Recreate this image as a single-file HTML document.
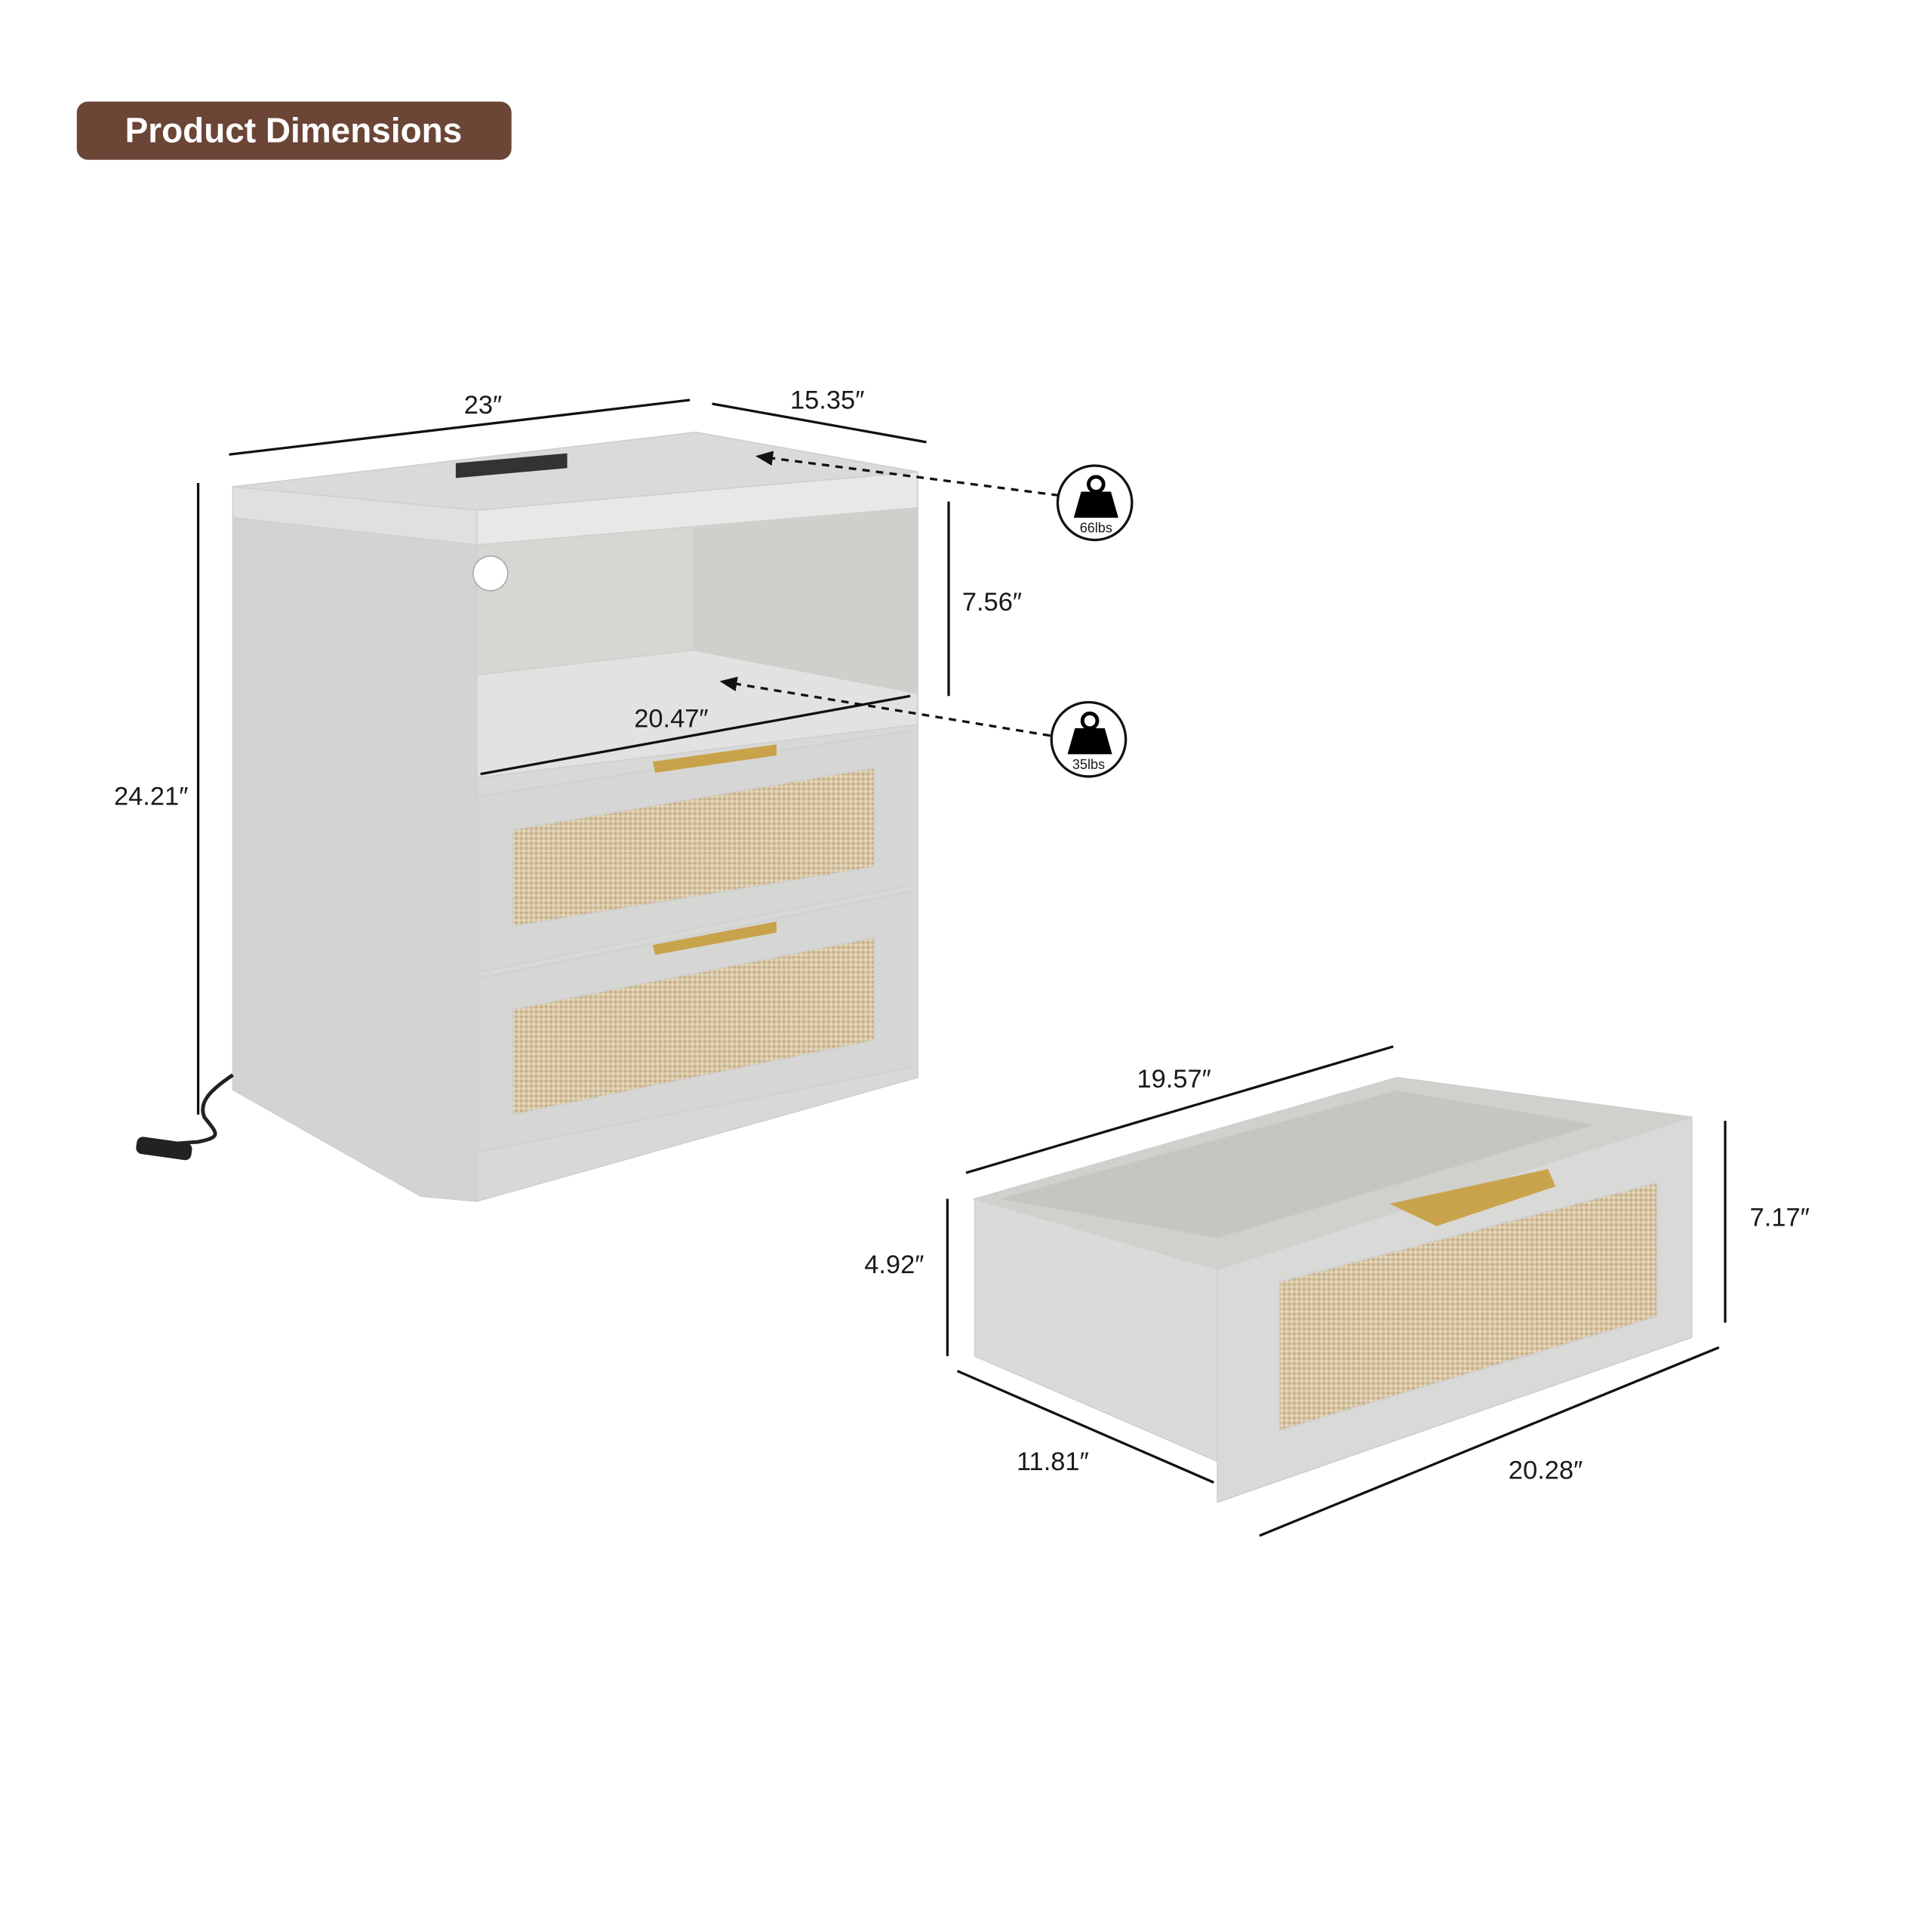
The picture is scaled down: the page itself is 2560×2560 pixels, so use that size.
<!DOCTYPE html>
<html><head><meta charset="utf-8"><style>
html,body{margin:0;padding:0;background:#fff;}
svg{display:block;}
text{font-family:"Liberation Sans",sans-serif;fill:#1a1a1a;}
</style></head><body>
<svg width="2560" height="2560" viewBox="0 0 1560 1560" xmlns="http://www.w3.org/2000/svg">
<defs>
<pattern id="rat" width="4" height="4" patternUnits="userSpaceOnUse">
<rect width="4" height="4" fill="#d9c7a6"/><rect width="2" height="2" fill="#c4ad88"/><rect x="2" y="2" width="2" height="2" fill="#e6d8bc"/>
</pattern>
<marker id="ah" markerWidth="8" markerHeight="8" refX="4" refY="4" orient="auto"><path d="M0,1 L7,4 L0,7 z" fill="#111"/></marker>
</defs>
<rect x="62" y="82" width="351" height="47" rx="9" fill="#6b4536"/>
<text x="237" y="115" font-size="28" font-weight="bold" text-anchor="middle" style="fill:#fff">Product Dimensions</text>

<g stroke="#cfcfcf" stroke-width="1">
<polygon points="188,418 385,440 385,970 340,966 188,880" fill="#d3d3d1"/>
<polygon points="385,410 741,381 741,870 385,970" fill="#d8d8d6"/>
<polygon points="385,440 741,410 741,585 385,628" fill="#cfcfcc"/>
<polygon points="385,440 560,425 560,525 385,545" fill="#d6d6d3"/>
<polygon points="385,545 560,525 741,560 741,585 385,628" fill="#e2e2e0"/>
<polygon points="188,393 562,349 741,381 385,412" fill="#dadad8"/>
<polygon points="188,393 385,412 385,440 188,418" fill="#e0e0de"/>
<polygon points="385,412 741,381 741,410 385,440" fill="#e8e8e6"/>
<polygon points="387,643 735,590 735,715 387,785" fill="#d6d6d4"/>
<polygon points="414,670 706,620 706,700 414,748" fill="url(#rat)"/>
<polygon points="387,790 735,720 735,862 387,930" fill="#d6d6d4"/>
<polygon points="414,815 706,757 706,840 414,900" fill="url(#rat)"/>
</g>
<polygon points="368,374 458,366 458,378 368,386" fill="#333"/>
<circle cx="396" cy="463" r="14" fill="#fff" stroke="#aaa"/>
<polygon points="527,615 627,601 627,610 529,624" fill="#c9a34c"/>
<polygon points="527,763 627,744 627,753 529,771" fill="#c9a34c"/>
<path d="M188,868 C170,880 160,890 165,902 C175,915 180,918 160,922 L120,925" fill="none" stroke="#222" stroke-width="3"/>
<rect x="110" y="920" width="45" height="14" rx="5" fill="#222" transform="rotate(8 130 927)"/>

<g stroke="#cfcfcf" stroke-width="1">
<polygon points="787,968 1128,870 1366,902 983,1025" fill="#d0d0cd"/>
<polygon points="805,968 1128,880 1290,908 983,1000" fill="#c5c5c2"/>
<polygon points="787,968 983,1025 983,1180 787,1095" fill="#dadad8"/>
<polygon points="983,1025 1366,902 1366,1080 983,1213" fill="#d9d9d7"/>
<polygon points="1033,1035 1338,955 1338,1063 1033,1155" fill="url(#rat)"/>
</g>
<polygon points="1122,972 1250,944 1256,958 1160,990" fill="#c9a34c"/>

<g stroke="#111" stroke-width="2" fill="none">
<line x1="185" y1="367" x2="557" y2="323"/>
<line x1="575" y1="326" x2="748" y2="357"/>
<line x1="160" y1="390" x2="160" y2="900"/>
<line x1="766" y1="405" x2="766" y2="562"/>
<line x1="388" y1="625" x2="735" y2="562"/>
<line x1="780" y1="947" x2="1125" y2="845"/>
<line x1="1393" y1="905" x2="1393" y2="1068"/>
<line x1="765" y1="968" x2="765" y2="1095"/>
<line x1="773" y1="1107" x2="980" y2="1197"/>
<line x1="1017" y1="1240" x2="1388" y2="1088"/>
<line x1="855" y1="400" x2="616" y2="369" stroke-dasharray="6,5" marker-end="url(#ah)"/>
<line x1="848" y1="594" x2="587" y2="551" stroke-dasharray="6,5" marker-end="url(#ah)"/>
<circle cx="884" cy="406" r="30"/>
<circle cx="879" cy="597" r="30"/>
</g>
<g fill="#000">
<circle cx="885" cy="391" r="6" fill="none" stroke="#000" stroke-width="3"/>
<polygon points="873,397 897,397 903,418 867,418"/>
<circle cx="880" cy="582" r="6" fill="none" stroke="#000" stroke-width="3"/>
<polygon points="868,588 892,588 898,609 862,609"/>
</g>
<text x="885" y="430" font-size="11" text-anchor="middle">66lbs</text>
<text x="879" y="621" font-size="11" text-anchor="middle">35lbs</text>

<g font-size="21" text-anchor="middle">
<text x="390" y="334">23″</text>
<text x="668" y="330">15.35″</text>
<text x="122" y="650">24.21″</text>
<text x="801" y="493">7.56″</text>
<text x="542" y="587">20.47″</text>
<text x="948" y="878">19.57″</text>
<text x="1437" y="990">7.17″</text>
<text x="722" y="1028">4.92″</text>
<text x="850" y="1187">11.81″</text>
<text x="1248" y="1194">20.28″</text>
</g>
</svg>
</body></html>
